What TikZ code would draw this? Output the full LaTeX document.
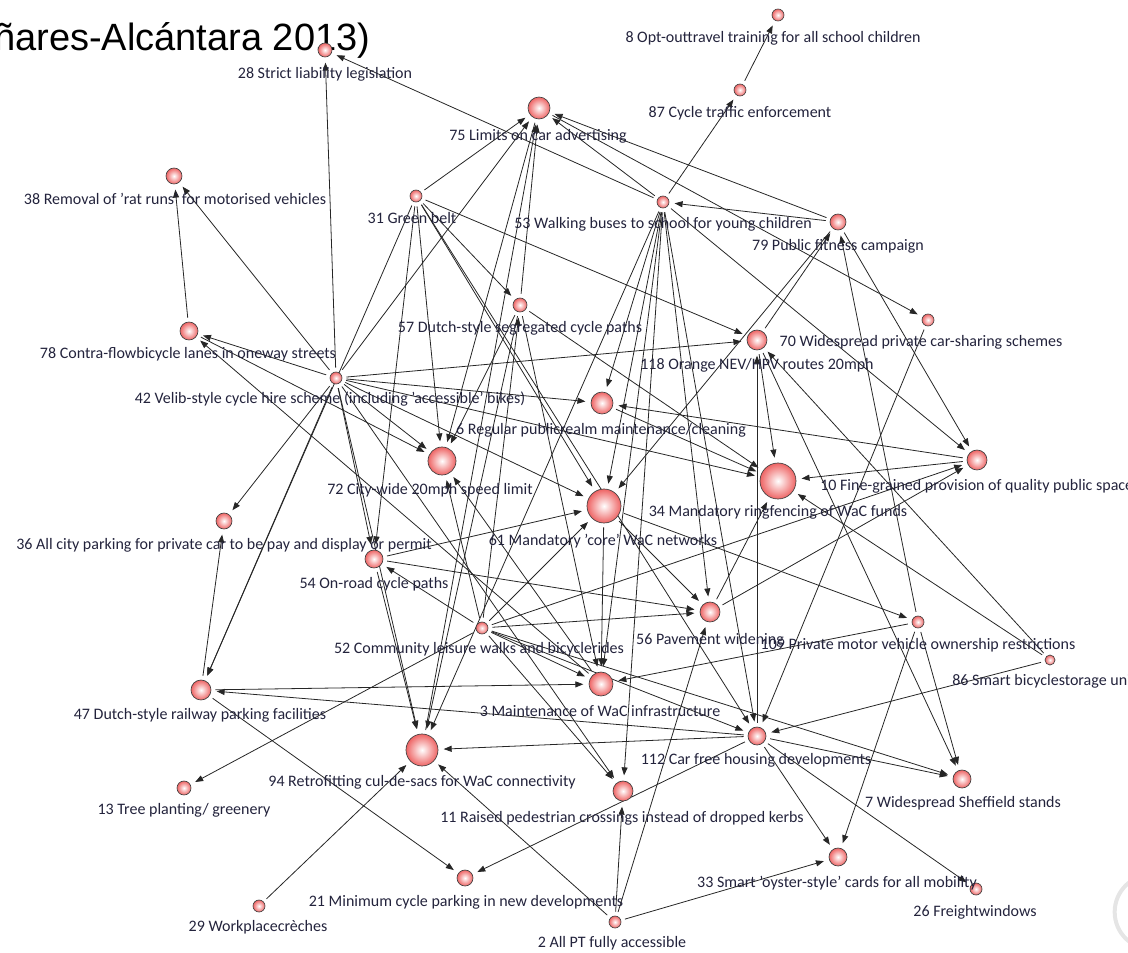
\documentclass[tikz,border=0pt]{standalone}
\usepackage{fontspec}
\setmainfont{Carlito}
\newfontfamily\headfont{Liberation Sans}
\usetikzlibrary{arrows.meta,backgrounds}
\definecolor{ink}{RGB}{35,35,60}
\definecolor{rim}{RGB}{238,100,100}
\newcommand\vnode[4]{\node[vtx,minimum size=#4pt] (v#1) at (#2,#3) {};}
\newcommand\vlabel[4]{\node[lab] (t#1) at (#2,#3) {#4};}
\begin{document}
\begin{tikzpicture}[x=0.75pt,y=-0.75pt,
  vtx/.style={circle,draw=black!75,line width=0.5pt,inner color=white,outer color=rim,inner sep=0pt},
  lab/.style={font=\fontsize{12}{14}\selectfont,text=ink,inner sep=0pt},
  link/.style={draw=black!85,line width=0.6pt,-{Triangle[length=6pt,width=4.5pt]},shorten >=4pt,shorten <=3pt}]
\useasboundingbox (0,0) rectangle (1128,953);
\clip (0,0) rectangle (1128,953);

% heading fragment
\node[anchor=base west,font=\headfont\fontsize{28.5}{31}\selectfont,inner sep=0pt] (title) at (-6,50) {ñares-Alcántara 2013)};

% faint ring in the corner
\draw[black!10,line width=3pt] (1152,912) circle[radius=28pt];

% vertices: name, x, y, diameter (pt)
\vnode{8}{778}{15}{9}
\vnode{87}{740}{90}{9}
\vnode{28}{325}{50}{10.5}
\vnode{75}{539}{108}{16.5}
\vnode{38}{174}{176}{12}
\vnode{31}{416}{196}{9}
\vnode{53}{663}{202}{9}
\vnode{79}{838}{222}{12}
\vnode{57}{520}{305}{10.5}
\vnode{70}{928}{320}{9}
\vnode{118}{757}{340}{15}
\vnode{78}{189}{331}{13.5}
\vnode{42}{336}{378}{9}
\vnode{6}{602}{403}{16.5}
\vnode{72}{442}{461}{21}
\vnode{34}{778}{481}{27}
\vnode{10}{977}{460}{15}
\vnode{61}{604}{506}{25.5}
\vnode{36}{224}{521}{12}
\vnode{54}{374}{559}{13.5}
\vnode{52}{482}{628}{9}
\vnode{56}{710}{612}{15}
\vnode{109}{918}{622}{9}
\vnode{86}{1050}{660}{7.5}
\vnode{47}{201}{690}{15}
\vnode{3}{601}{684}{18}
\vnode{112}{757}{736}{13.5}
\vnode{94}{422}{750}{24}
\vnode{13}{184}{788}{10.5}
\vnode{7}{962}{779}{13.5}
\vnode{11}{623}{791}{15}
\vnode{33}{838}{857}{13.5}
\vnode{26}{976}{889}{9}
\vnode{21}{465}{878}{12}
\vnode{29}{259}{906}{9}
\vnode{2}{615}{922}{9}

% captions
\vlabel{8}{773}{38}{8 Opt-outtravel training for all school children}
\vlabel{87}{740}{113}{87 Cycle traffic enforcement}
\vlabel{28}{325}{74}{28 Strict liability legislation}
\vlabel{75}{538}{136}{75 Limits on car advertising}
\vlabel{38}{175}{199}{38 Removal of 'rat runs' for motorised vehicles}
\vlabel{31}{412}{218}{31 Green belt}
\vlabel{53}{663}{224}{53 Walking buses to school for young children}
\vlabel{79}{838}{246}{79 Public fitness campaign}
\vlabel{57}{520}{328}{57 Dutch-style segregated cycle paths}
\vlabel{70}{921}{342}{70 Widespread private car-sharing schemes}
\vlabel{118}{757}{365}{118 Orange NEV/HPV routes 20mph}
\vlabel{78}{188}{354}{78 Contra-flowbicycle lanes in oneway streets}
\vlabel{42}{330}{399}{42 Velib-style cycle hire scheme (including 'accessible' bikes)}
\vlabel{6}{601}{430}{6 Regular publicrealm maintenance/cleaning}
\vlabel{72}{430}{490}{72 City-wide 20mph speed limit}
\vlabel{34}{778}{512}{34 Mandatory ringfencing of WaC funds}
\node[lab,anchor=west] (t10) at (820,486) {10 Fine-grained provision of quality public spaces};
\vlabel{61}{603}{541}{61 Mandatory 'core' WaC networks}
\vlabel{36}{224}{545}{36 All city parking for private car to be pay and display or permit}
\vlabel{54}{374}{584}{54 On-road cycle paths}
\vlabel{52}{479}{649}{52 Community leisure walks and bicyclerides}
\vlabel{56}{710}{640}{56 Pavement widening}
\vlabel{109}{918}{645}{109 Private motor vehicle ownership restrictions}
\node[lab,anchor=west] (t86) at (952,681) {86 Smart bicyclestorage units};
\vlabel{47}{200}{715}{47 Dutch-style railway parking facilities}
\vlabel{3}{600}{711}{3 Maintenance of WaC infrastructure}
\vlabel{112}{756}{760}{112 Car free housing developments}
\vlabel{94}{422}{782}{94 Retrofitting cul-de-sacs for WaC connectivity}
\vlabel{13}{184}{810}{13 Tree planting/ greenery}
\vlabel{7}{963}{803}{7 Widespread Sheffield stands}
\vlabel{11}{622}{818}{11 Raised pedestrian crossings instead of dropped kerbs}
\vlabel{33}{837}{883}{33 Smart 'oyster-style' cards for all mobility}
\vlabel{26}{975}{912}{26 Freightwindows}
\vlabel{21}{466}{902}{21 Minimum cycle parking in new developments}
\vlabel{29}{258}{927}{29 Workplacecrèches}
\vlabel{2}{612}{943}{2 All PT fully accessible}

% directed influences
\begin{scope}[on background layer]
\foreach \a/\b in {87/8, 53/87, 53/28, 42/28, 78/38, 42/38,
  31/75, 57/75, 53/75, 79/75, 94/75, 42/75,
  79/53, 75/70, 31/57, 31/118, 42/118,
  53/10, 79/10, 56/10, 52/10,
  70/112, 79/61, 109/79, 118/79,
  10/34, 10/6, 118/34, 56/34, 86/34, 6/34, 42/34, 57/34,
  53/6, 42/6,
  53/61, 31/61, 42/61, 54/61, 52/61,
  61/3, 53/3, 57/3, 52/3, 47/3, 109/3,
  53/11, 52/11, 42/11, 2/11,
  53/56, 52/56, 61/56, 2/56, 54/56,
  53/112, 31/112, 86/112, 52/112,
  112/118, 86/118,
  112/94, 42/94, 54/94, 57/94, 53/94, 29/94, 2/94,
  112/47, 42/47, 31/47, 47/36, 42/36,
  112/21, 47/21,
  112/7, 52/7, 109/7, 118/7,
  112/33, 109/33, 2/33, 112/26,
  61/109,
  42/54, 31/54, 52/54,
  52/57, 52/13,
  31/72, 75/72, 57/72, 78/72, 42/72, 3/72, 52/72,
  42/78, 3/78}
  \draw[link] (v\a) -- (v\b);
\end{scope}
\end{tikzpicture}
\end{document}
